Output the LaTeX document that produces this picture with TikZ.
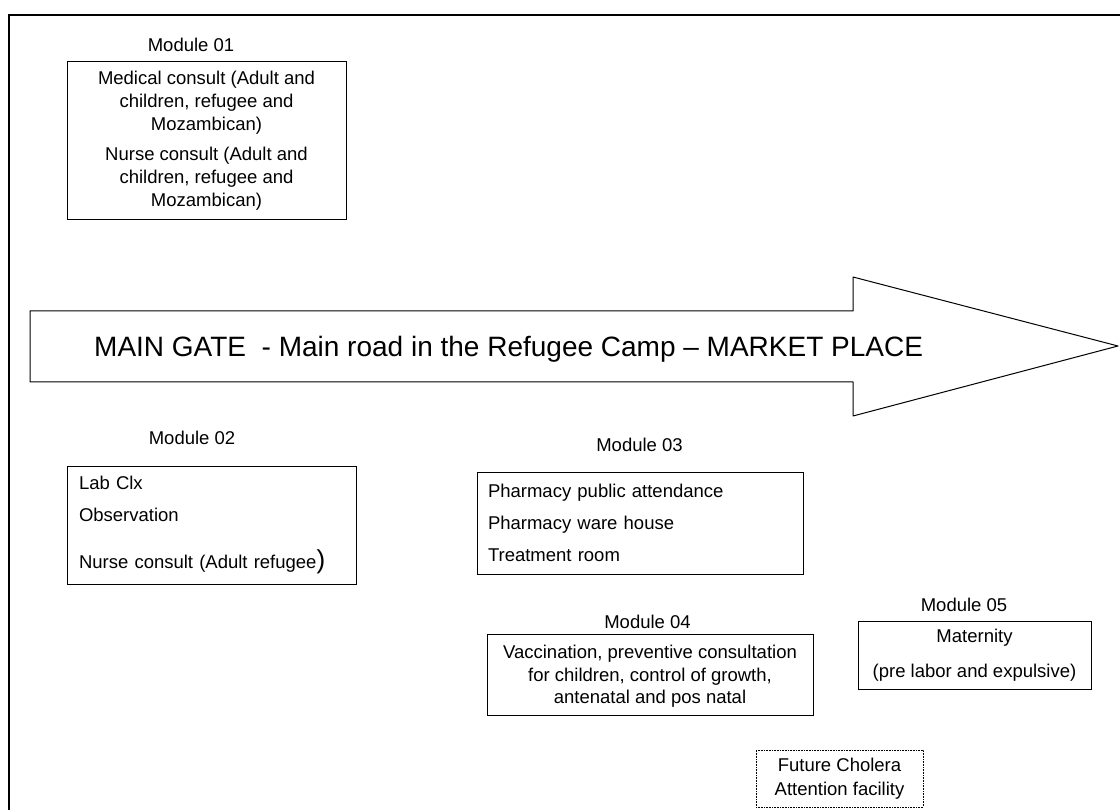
\documentclass[tikz,border=0pt]{standalone}
\usepackage{fontspec}
\setmainfont{Liberation Sans}
\usetikzlibrary{positioning}

\begin{document}
\begin{tikzpicture}[x=1pt,y=-1pt,
    modbox/.style={draw, line width=1pt, inner sep=0pt, font=\fontsize{18.5}{23}\selectfont},
    modlabel/.style={font=\fontsize{18.5}{23}\selectfont}]
  \useasboundingbox (0,0) rectangle (1120,810);
  % outer frame, it runs off the page on the right and at the bottom
  \draw[line width=1.5pt] (9,15) rectangle (1140,830);

  % module 01 on top of the road
  \node[modlabel] (lab1) at (191,45) {Module 01};
  \node[modbox, minimum width=279pt, minimum height=158pt, align=center] (mod1) at (206.5,141)
    {Medical consult (Adult and\\children, refugee and\\Mozambican)\\[7pt]
     Nurse consult (Adult and\\children, refugee and\\Mozambican)};

  % the main road as a big arrow
  \draw[line width=1pt, line join=round] (30,311) -- (853,311) -- (853,277) -- (1118,346)
    -- (853,416) -- (853,382) -- (30,382) -- cycle;
  \node[anchor=base west, inner sep=0pt, font=\fontsize{28}{28}\selectfont] (road) at (94,357)
    {MAIN GATE\ \ - Main road in the Refugee Camp – MARKET PLACE};

  % module 02 and module 03 below the road
  \node[modlabel] (lab2) at (192,438) {Module 02};
  \node[modbox, minimum width=289pt, minimum height=118pt, inner xsep=12pt, text width=265pt, align=left] (mod2) at (211.5,525)
    {Lab Clx\\[9pt]Observation\\[24pt]Nurse consult (Adult refugee{\fontsize{26}{26}\selectfont )}};

  \node[modlabel] (lab3) at (639.5,445) {Module 03};
  \node[modbox, minimum width=326pt, minimum height=102pt, inner xsep=11pt, text width=304pt, align=left] (mod3) at (640,523)
    {Pharmacy public attendance\\[9pt]Pharmacy ware house\\[9pt]Treatment room};

  % module 04 and module 05
  \node[modlabel] (lab4) at (647.5,622) {Module 04};
  \node[modbox, minimum width=326pt, minimum height=81pt, align=center, font=\fontsize{18.5}{22.5}\selectfont] (mod4) at (650,674.5)
    {\rule{0pt}{17pt}Vaccination, preventive consultation\\for children, control of growth,\\antenatal and pos natal};

  \node[modlabel] (lab5) at (964,605) {Module 05};
  \node[modbox, minimum width=233pt, minimum height=68pt, align=center] (mod5) at (974.5,655)
    {Maternity\\[12pt](pre labor and expulsive)};

  % planned cholera unit, dotted
  \node[modbox, line width=0.6pt, densely dotted, minimum width=167pt, minimum height=57pt, align=center, font=\fontsize{18.5}{24}\selectfont] (cholera) at (839.5,778.5)
    {Future Cholera\\Attention facility};
\end{tikzpicture}
\end{document}
